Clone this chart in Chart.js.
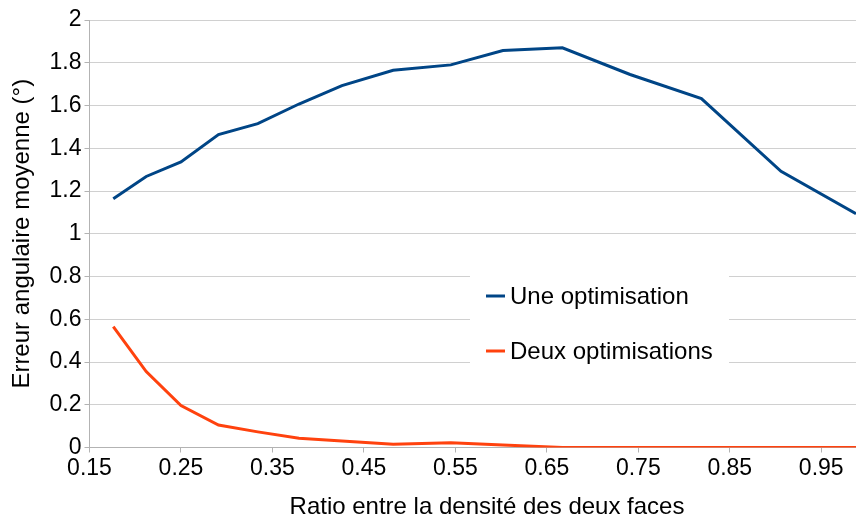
<!DOCTYPE html>
<html>
<head>
<meta charset="utf-8">
<script src="https://cdn.jsdelivr.net/npm/chart.js@4/dist/chart.umd.min.js"></script>
<style>
  html, body { margin: 0; padding: 0; background: #fff; }
  #wrap { width: 856px; height: 517px; }
</style>
</head>
<body>
<div id="wrap"><canvas id="myChart" width="856" height="517"></canvas></div>
<script>
// ratio values (x) shared by both series
const ratios = [0.176, 0.212, 0.25, 0.291, 0.334, 0.379, 0.426, 0.482, 0.545, 0.602, 0.667, 0.741, 0.819, 0.906, 0.988];
const uneOptim = [1.164, 1.268, 1.336, 1.464, 1.515, 1.607, 1.693, 1.765, 1.79, 1.857, 1.87, 1.745, 1.632, 1.292, 1.094];
const deuxOptim = [0.566, 0.355, 0.196, 0.105, 0.073, 0.043, 0.03, 0.015, 0.022, 0.012, 0, 0, 0, 0, 0];
const xTicks = [0.15, 0.25, 0.35, 0.45, 0.55, 0.65, 0.75, 0.85, 0.95];
const seriesNames = ["Une optimisation", "Deux optimisations"];
const seriesColors = ["#004586", "#ff420e"];
const xTitle = "Ratio entre la densité des deux faces";
const yTitle = "Erreur angulaire moyenne (°)";

const font = "'Liberation Sans', Arial, sans-serif";

function toXY(vals) {
    let xy = [];
    for (let i = 0; i < vals.length; i++) {
        xy.push({ x: ratios[i], y: vals[i] });
    }
    return xy;
}

// legend box drawn inside the plot + x title (sits a bit right of centre in the original)
const innerLegend = {
    id: 'innerLegend',
    afterDatasetsDraw(chart) {
        const ctx = chart.ctx;
        ctx.save();
        ctx.fillStyle = '#ffffff';
        ctx.fillRect(470, 272, 259, 94);
        ctx.font = "24px " + font;
        ctx.textBaseline = 'middle';
        chart.data.datasets.forEach((ds, i) => {
            const y = 296 + i * 55;
            ctx.strokeStyle = ds.borderColor;
            ctx.lineWidth = 3;
            ctx.beginPath();
            ctx.moveTo(486, y);
            ctx.lineTo(505, y);
            ctx.stroke();
            ctx.fillStyle = '#000';
            ctx.fillText(ds.label, 510, y + 1);
        });
        ctx.textAlign = 'center';
        ctx.fillText(xTitle, 487, 507);
        ctx.restore();
    }
};

const ctx = document.getElementById('myChart').getContext('2d');
var myChart = new Chart(ctx, {
    type: 'line',
    data: {
        datasets: [
            {
                label: seriesNames[0],
                data: toXY(uneOptim),
                borderColor: seriesColors[0],
                backgroundColor: seriesColors[0],
                borderWidth: 3,
                pointRadius: 0,
                tension: 0
            },
            {
                label: seriesNames[1],
                data: toXY(deuxOptim),
                borderColor: seriesColors[1],
                backgroundColor: seriesColors[1],
                borderWidth: 3,
                pointRadius: 0,
                tension: 0
            }
        ]
    },
    options: {
        responsive: false,
        animation: false,
        layout: { padding: { top: 20, right: 0, left: 0, bottom: 0 } },
        plugins: {
            legend: { display: false },
            tooltip: { enabled: false }
        },
        scales: {
            x: {
                type: 'linear',
                min: 0.15,
                max: 0.988,
                afterBuildTicks: (scale) => {
                    scale.ticks = xTicks.map(v => ({ value: v }));
                },
                afterFit: (scale) => { scale.height = 69.5; },
                ticks: {
                    color: '#000',
                    font: { size: 23, family: font },
                    padding: 2,
                    maxRotation: 0,
                    autoSkip: false,
                    callback: (v) => v.toFixed(2)
                },
                grid: {
                    display: true,
                    drawOnChartArea: false,
                    drawTicks: true,
                    tickLength: 5,
                    color: '#b3b3b3'
                },
                border: { color: '#b3b3b3', width: 1 },
                title: { display: false }
            },
            y: {
                min: 0,
                max: 2,
                afterFit: (scale) => { scale.width = 89.5; },
                ticks: {
                    stepSize: 0.2,
                    color: '#000',
                    font: { size: 23, family: font },
                    padding: 3,
                    callback: (v) => String(Math.round(v * 10) / 10)
                },
                grid: {
                    color: '#d0d0d0',
                    tickColor: '#b3b3b3',
                    tickLength: 5
                },
                border: { color: '#b3b3b3', width: 1 },
                title: {
                    display: true,
                    text: yTitle,
                    color: '#000',
                    font: { size: 24, family: font, lineHeight: 1.2 },
                    padding: { top: 8, bottom: 0 }
                }
            }
        }
    },
    plugins: [innerLegend]
});
</script>
</body>
</html>
